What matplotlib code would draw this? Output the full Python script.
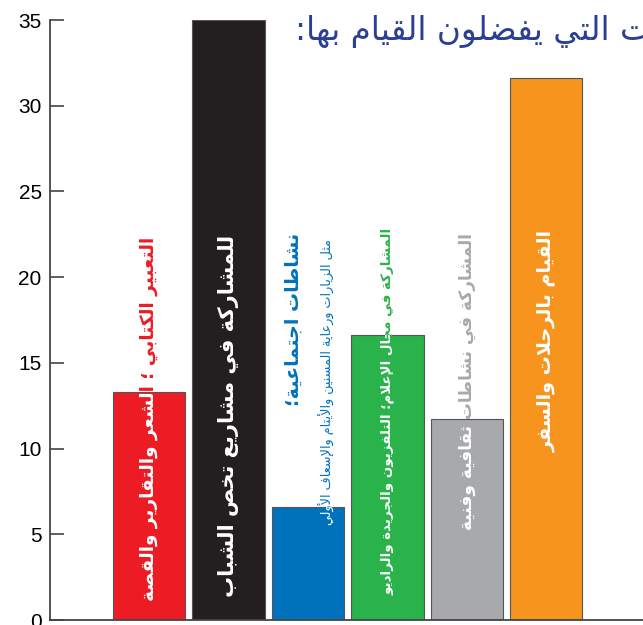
import matplotlib
matplotlib.use("Agg")
import matplotlib.pyplot as plt

# matplotlib has no Arabic shaping, so map letters to presentation forms
# (isolated, final, initial, medial) and reverse for right-to-left display
AR_FORMS = {
    'ء': (0xFE80, 1), 'آ': (0xFE81, 2), 'أ': (0xFE83, 2), 'ؤ': (0xFE85, 2),
    'إ': (0xFE87, 2), 'ئ': (0xFE89, 4), 'ا': (0xFE8D, 2), 'ب': (0xFE8F, 4),
    'ة': (0xFE93, 2), 'ت': (0xFE95, 4), 'ث': (0xFE99, 4), 'ج': (0xFE9D, 4),
    'ح': (0xFEA1, 4), 'خ': (0xFEA5, 4), 'د': (0xFEA9, 2), 'ذ': (0xFEAB, 2),
    'ر': (0xFEAD, 2), 'ز': (0xFEAF, 2), 'س': (0xFEB1, 4), 'ش': (0xFEB5, 4),
    'ص': (0xFEB9, 4), 'ض': (0xFEBD, 4), 'ط': (0xFEC1, 4), 'ظ': (0xFEC5, 4),
    'ع': (0xFEC9, 4), 'غ': (0xFECD, 4), 'ف': (0xFED1, 4), 'ق': (0xFED5, 4),
    'ك': (0xFED9, 4), 'ل': (0xFEDD, 4), 'م': (0xFEE1, 4), 'ن': (0xFEE5, 4),
    'ه': (0xFEE9, 4), 'و': (0xFEED, 2), 'ى': (0xFEEF, 2), 'ي': (0xFEF1, 4),
}
LAM_ALEF = {'آ': 0xFEF5, 'أ': 0xFEF7, 'إ': 0xFEF9, 'ا': 0xFEFB}


def shape(text):
    chars = []
    i = 0
    while i < len(text):
        c = text[i]
        if c == 'ل' and i + 1 < len(text) and text[i + 1] in LAM_ALEF:
            chars.append(('LA', text[i + 1]))
            i += 2
        else:
            chars.append((c, None))
            i += 1
    out = []
    for k, (c, a) in enumerate(chars):
        prev = chars[k - 1][0] if k > 0 else None
        nxt = chars[k + 1][0] if k + 1 < len(chars) else None
        joins_prev = prev in AR_FORMS and AR_FORMS[prev][1] == 4
        if c == 'LA':
            out.append(chr(LAM_ALEF[a] + (1 if joins_prev else 0)))
            continue
        if c not in AR_FORMS:
            out.append(c)
            continue
        base, n = AR_FORMS[c]
        if n == 1:
            out.append(chr(base))
            continue
        joins_next = n == 4 and (nxt == 'LA' or (nxt in AR_FORMS and AR_FORMS[nxt][1] > 1))
        if joins_prev and joins_next:
            form = 3
        elif joins_prev:
            form = 1
        elif joins_next:
            form = 2
        else:
            form = 0
        out.append(chr(base + form))
    return ''.join(out)[::-1]


# data
categories = [
    'التعبير الكتابي ؛ الشعر والتقارير والقصة',
    'للمشاركة في مشاريع تخص الشباب',
    'نشاطات اجتماعية؛',
    'المشاركة في مجال الإعلام؛ التلفزيون والجريدة والراديو',
    'المشاركة في نشاطات ثقافية وفنية',
    'القيام بالرحلات والسفر',
]
subnote = 'مثل الزيارات ورعاية المسنين والأيتام والإسعاف الأولي'
values = [13.3, 35, 6.6, 16.6, 11.7, 31.6]
colors = ['#ED1C24', '#231F20', '#0072BC', '#2AB24B', '#A7A9AC', '#F7941D']
title = 'النشاطات التي يفضلون القيام بها:'

# label layout: top of text (data y), x offset, font size
label_top = [22.35, 22.45, 22.6, 22.9, 22.6, 22.75]
label_size = [13.2, 15.1, 13.7, 9.6, 12.2, 13.8]
label_dx = [0, 0, -0.19, 0, 0, 0]

fig = plt.figure(figsize=(6.43, 6.25), dpi=100)
ax = fig.add_axes([50 / 643, 5 / 625, 1 - 50 / 643, 600 / 625])

x = list(range(len(values)))
bars = ax.bar(x, values, width=0.91, color=colors, edgecolor='#555555', linewidth=0.8, zorder=2)

for i, rect in enumerate(bars):
    xc = x[i] + label_dx[i]
    kw = dict(rotation=90, ha='center', va='top', fontsize=label_size[i],
              fontweight='bold', family='DejaVu Sans')
    ax.text(xc, label_top[i], shape(categories[i]), color=colors[i], zorder=3, **kw)
    t = ax.text(xc, label_top[i], shape(categories[i]), color='white', zorder=4,
                clip_on=True, **kw)
    t.set_clip_path(rect)

# small note under the social activities label
kw = dict(rotation=90, ha='center', va='top', fontsize=9.2, family='DejaVu Sans')
ax.text(2 + 0.24, 22.2, shape(subnote), color=colors[2], zorder=3, **kw)
t = ax.text(2 + 0.24, 22.2, shape(subnote), color='white', zorder=4, clip_on=True, **kw)
t.set_clip_path(bars[2])

ax.set_xlim(-1.25, 6.22)
ax.set_ylim(0, 35)
ax.set_yticks(range(0, 36, 5))
ax.set_xticks([])
ax.tick_params(axis='y', direction='in', length=10, width=1.2, color='#444444',
               pad=6, labelsize=15)
for lab in ax.get_yticklabels():
    lab.set_family('Liberation Sans')
for s in ['top', 'right']:
    ax.spines[s].set_visible(False)
for s in ['left', 'bottom']:
    ax.spines[s].set_color('#444444')
    ax.spines[s].set_linewidth(1.3)

# title, cut at the right edge as in the original
fig.text(295 / 643, 1 - 40 / 625, shape(title), ha='left', va='baseline',
         fontsize=23.5, color='#2B3F95', family='DejaVu Sans')

fig.savefig('out.png', dpi=100)
